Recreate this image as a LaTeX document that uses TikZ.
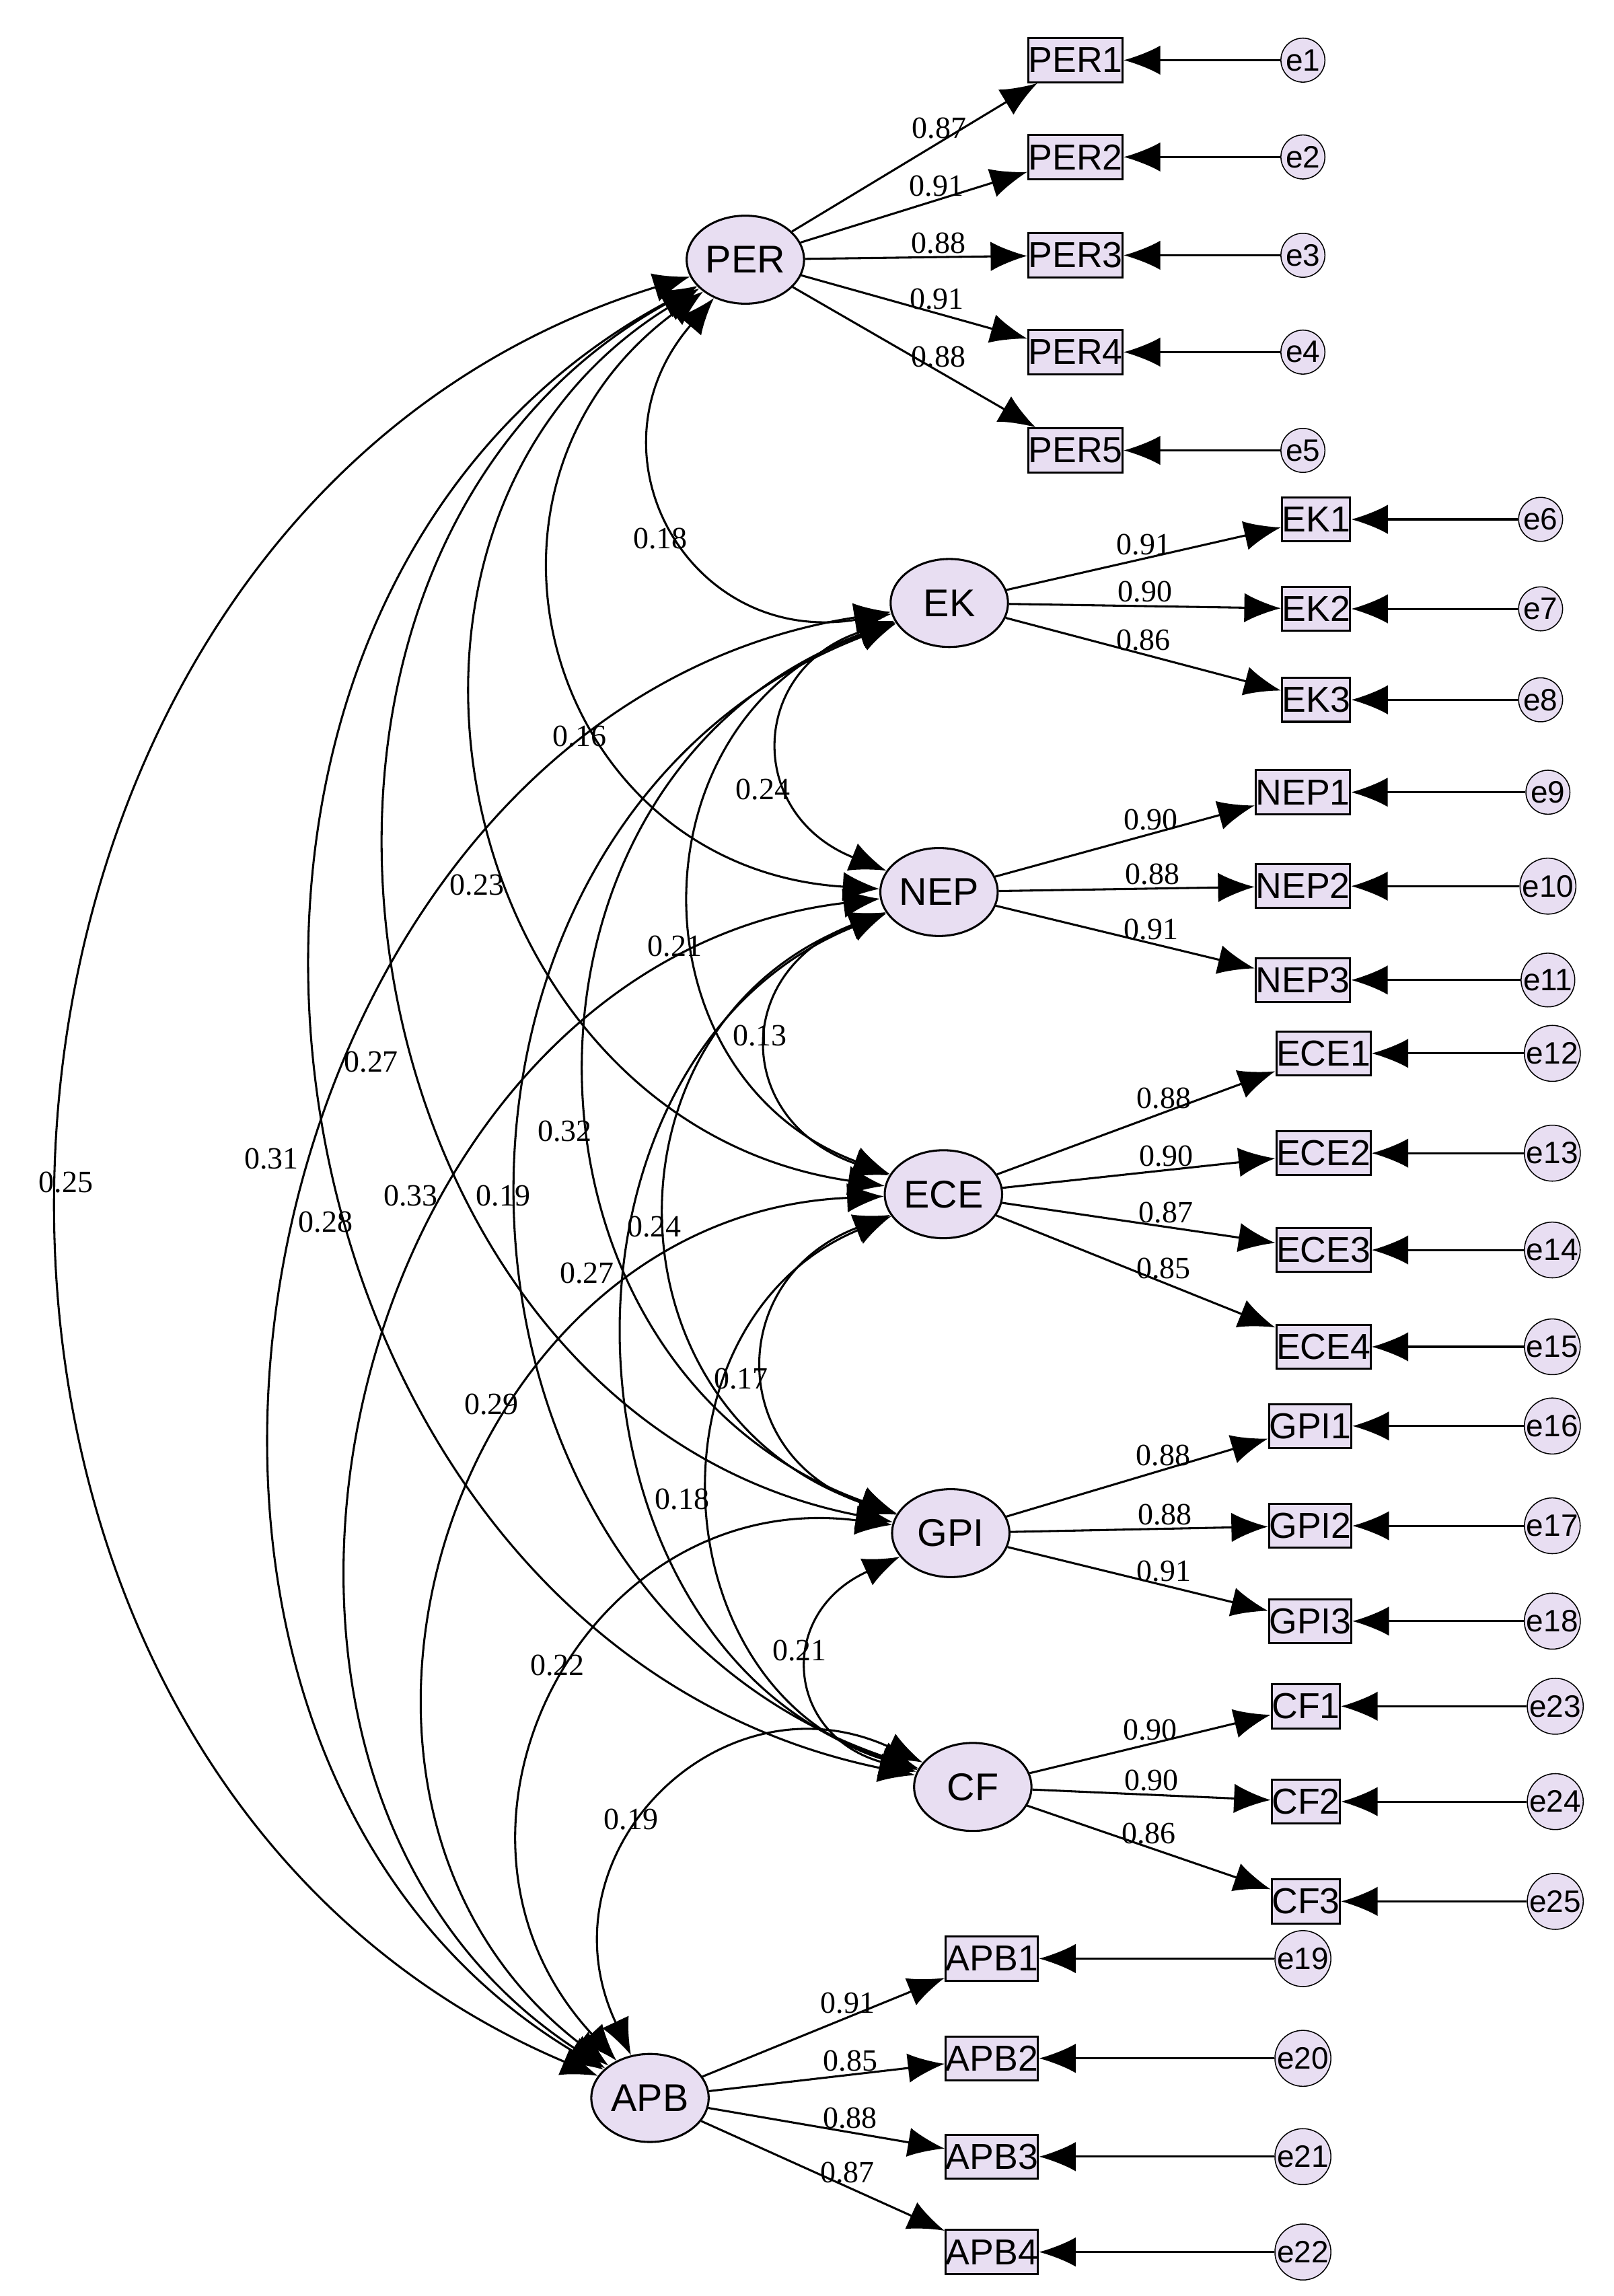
\documentclass[tikz,border=0pt]{standalone}
\usepackage{fontspec}
\setmainfont{Liberation Serif}
\newfontfamily\sansf{Liberation Sans}
\usetikzlibrary{shapes.geometric,arrows.meta}
\definecolor{lav}{HTML}{E8DEF2}
\begin{document}
\begin{tikzpicture}[x=0.02cm,y=-0.02cm,
 lat/.style={ellipse,draw,thick,fill=lav,minimum width=1.6cm,minimum height=1.2cm,inner sep=0pt,font=\sansf\fontsize{15}{15}\selectfont},
 ind/.style={rectangle,draw,thick,fill=lav,minimum width=0.8cm,minimum height=0.6cm,inner sep=0pt,font=\sansf\fontsize{14}{14}\selectfont},
 err/.style={circle,draw,fill=lav,minimum size=0.6cm,inner sep=0pt,font=\sansf\fontsize{12}{12}\selectfont},
 arr/.style={thick,-{Latex[length=0.5cm,width=0.4cm]}},
 cov/.style={thick,{Latex[length=0.5cm,width=0.4cm]}-{Latex[length=0.5cm,width=0.4cm]}},
 num/.style={font=\fontsize{12}{12}\selectfont,inner sep=1pt}]
\useasboundingbox (0,0) rectangle (1100,1565);
\node[lat] (PER) at (508,177) {PER};
\node[lat] (EK) at (647,411) {EK};
\node[lat] (NEP) at (640,608) {NEP};
\node[lat] (ECE) at (643,814) {ECE};
\node[lat] (GPI) at (648,1045) {GPI};
\node[lat] (CF) at (663,1218) {CF};
\node[lat] (APB) at (443,1430) {APB};
% covariances
\foreach \a/\b/\l in {PER/EK/1.45,PER/NEP/1.36,PER/ECE/1.23,PER/GPI/1.16,PER/CF/1.17,PER/APB/1.17,
 EK/NEP/1.56,EK/ECE/1.3,EK/GPI/1.25,EK/CF/1.22,EK/APB/1.13,
 NEP/ECE/1.6,NEP/GPI/1.33,NEP/CF/1.16,NEP/APB/1.15,
 ECE/GPI/1.52,ECE/CF/1.25,ECE/APB/1.22,GPI/CF/1.62,GPI/APB/1.32,CF/APB/1.38}
 \draw[cov] (\a) to[bend right=70,looseness=\l] (\b);
% indicators
\foreach \i/\y/\l/\e/\ex in {1/41/0.87/e1/888,2/107/0.91/e2/888,3/174/0.88/e3/888,4/240/0.91/e4/888,5/307/0.88/e5/888}{
 \node[ind] (PER\i) at (733,\y) {PER\i};
 \node[err] (ePER\i) at (\ex,\y) {\e};
 \draw[arr] (ePER\i) -- (PER\i);
 \draw[arr] (PER) -- node[num,pos=0.6,above]{\l} (PER\i);}
\foreach \i/\y/\l/\e in {1/354/0.91/e6,2/415/0.90/e7,3/477/0.86/e8}{
 \node[ind] (EK\i) at (897,\y) {EK\i};
 \node[err] (eEK\i) at (1050,\y) {\e};
 \draw[arr] (eEK\i) -- (EK\i);
 \draw[arr] (EK) -- node[num,pos=0.5,above]{\l} (EK\i);}
\foreach \i/\y/\l/\e in {1/540/0.90/e9,2/604/0.88/e10,3/668/0.91/e11}{
 \node[ind] (NEP\i) at (888,\y) {NEP\i};
 \node[err] (eNEP\i) at (1055,\y) {\e};
 \draw[arr] (eNEP\i) -- (NEP\i);
 \draw[arr] (NEP) -- node[num,pos=0.6,above]{\l} (NEP\i);}
\foreach \i/\y/\l/\e in {1/718/0.88/e12,2/786/0.90/e13,3/852/0.87/e14,4/918/0.85/e15}{
 \node[ind] (ECE\i) at (902,\y) {ECE\i};
 \node[err] (eECE\i) at (1058,\y) {\e};
 \draw[arr] (eECE\i) -- (ECE\i);
 \draw[arr] (ECE) -- node[num,pos=0.6,above]{\l} (ECE\i);}
\foreach \i/\y/\l/\e in {1/972/0.88/e16,2/1040/0.88/e17,3/1105/0.91/e18}{
 \node[ind] (GPI\i) at (893,\y) {GPI\i};
 \node[err] (eGPI\i) at (1058,\y) {\e};
 \draw[arr] (eGPI\i) -- (GPI\i);
 \draw[arr] (GPI) -- node[num,pos=0.6,above]{\l} (GPI\i);}
\foreach \i/\y/\l/\e in {1/1163/0.90/e23,2/1228/0.90/e24,3/1296/0.86/e25}{
 \node[ind] (CF\i) at (890,\y) {CF\i};
 \node[err] (eCF\i) at (1060,\y) {\e};
 \draw[arr] (eCF\i) -- (CF\i);
 \draw[arr] (CF) -- node[num,pos=0.5,above]{\l} (CF\i);}
\foreach \i/\y/\l/\e in {1/1335/0.91/e19,2/1403/0.85/e20,3/1470/0.88/e21,4/1535/0.87/e22}{
 \node[ind] (APB\i) at (676,\y) {APB\i};
 \node[err] (eAPB\i) at (888,\y) {\e};
 \draw[arr] (eAPB\i) -- (APB\i);
 \draw[arr] (APB) -- node[num,pos=0.6,above]{\l} (APB\i);}
% covariance labels
\foreach \x/\y/\t/\n in {450/367/0.18/a,395/502/0.16/b,325/603/0.23/c,253/724/0.27/d,185/790/0.31/e,45/806/0.25/f,
520/538/0.24/g,460/645/0.21/h,385/771/0.32/i,280/815/0.33/j,222/833/0.28/k,518/706/0.13/l,446/836/0.24/m,
400/868/0.27/n,343/815/0.19/o,505/940/0.17/p,465/1022/0.18/q,335/957/0.29/r,545/1125/0.21/s,380/1135/0.22/t,430/1240/0.19/u}
 \node[num] (c\n) at (\x,\y) {\t};
\end{tikzpicture}
\end{document}
